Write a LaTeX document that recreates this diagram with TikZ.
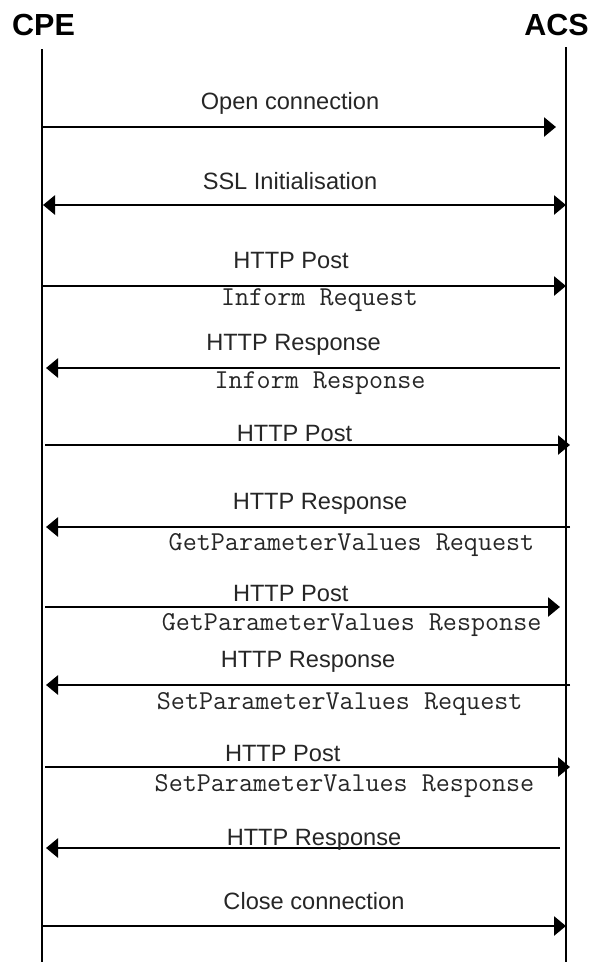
\documentclass[tikz,border=0pt]{standalone}
\usepackage{fontspec}
\setmainfont{Liberation Sans}
\usetikzlibrary{arrows.meta}
\begin{document}
\begin{tikzpicture}[x=1pt,y=-1pt,
  tip/.tip={Triangle[length=12pt,width=19pt]},
  msg/.style={line width=2.8pt,-tip},
  both/.style={line width=2.8pt,tip-tip},
  life/.style={line width=2.8pt},
  lbl/.style={anchor=base,inner sep=0pt,font=\fontsize{23.6}{26}\selectfont,text=black!85},
  mono/.style={anchor=base,inner sep=0pt,font=\fontsize{27.3}{30}\selectfont\ttfamily,text=black!85},
  head/.style={anchor=base,inner sep=0pt,font=\fontsize{30.5}{34}\selectfont\bfseries}]
\useasboundingbox (0,0) rectangle (592,962);

% headers
\node[head] (cpe) at (43.5,35) {CPE};
\node[head] (acs) at (556.5,35) {ACS};

% lifelines
\coordinate (cpeTop) at (42,49);
\coordinate (cpeBot) at (42,962);
\coordinate (acsTop) at (566,47);
\coordinate (acsBot) at (566,962);
\draw[life] (cpeTop) -- (cpeBot);
\draw[life] (acsTop) -- (acsBot);

% 1 Open connection
\coordinate (s1) at (42,127);  \coordinate (e1) at (556,127);
\draw[msg] (s1) -- (e1);
\node[lbl] (l1) at (290,109) {Open connection};

% 2 SSL
\coordinate (s2) at (43,205);  \coordinate (e2) at (566,205);
\draw[both] (s2) -- (e2);
\node[lbl] (l2) at (290,189) {SSL Initialisation};

% 3 HTTP Post / Inform Request
\coordinate (s3) at (42,286);  \coordinate (e3) at (566,286);
\draw[msg] (s3) -- (e3);
\node[lbl] (l3) at (291,268) {HTTP Post};
\node[mono] (m3) at (319.5,305) {Inform Request};

% 4 HTTP Response / Inform Response
\coordinate (s4) at (560,368);  \coordinate (e4) at (46,368);
\draw[msg] (s4) -- (e4);
\node[lbl] (l4) at (293.5,350) {HTTP Response};
\node[mono] (m4) at (320,388) {Inform Response};

% 5 HTTP Post
\coordinate (s5) at (45,445);  \coordinate (e5) at (570,445);
\draw[msg] (s5) -- (e5);
\node[lbl] (l5) at (294.5,441.7) {HTTP Post};

% 6 HTTP Response / GPV Request
\coordinate (s6) at (570,527);  \coordinate (e6) at (46,527);
\draw[msg] (s6) -- (e6);
\node[lbl] (l6) at (320,509) {HTTP Response};
\node[mono] (m6) at (351.5,550.7) {GetParameterValues Request};

% 7 HTTP Post / GPV Response
\coordinate (s7) at (45,607);  \coordinate (e7) at (560,607);
\draw[msg] (s7) -- (e7);
\node[lbl] (l7) at (290.7,601.7) {HTTP Post};
\node[mono] (m7) at (351.6,630.7) {GetParameterValues Response};

% 8 HTTP Response / SPV Request
\coordinate (s8) at (570,685);  \coordinate (e8) at (46,685);
\draw[msg] (s8) -- (e8);
\node[lbl] (l8) at (308,667) {HTTP Response};
\node[mono] (m8) at (339.7,709) {SetParameterValues Request};

% 9 HTTP Post / SPV Response
\coordinate (s9) at (45,767);  \coordinate (e9) at (570,767);
\draw[msg] (s9) -- (e9);
\node[lbl] (l9) at (282.7,761.7) {HTTP Post};
\node[mono] (m9) at (344.5,791.7) {SetParameterValues Response};

% 10 HTTP Response
\coordinate (s10) at (560,848);  \coordinate (e10) at (46,848);
\draw[msg] (s10) -- (e10);
\node[lbl] (l10) at (314,845) {HTTP Response};

% 11 Close connection
\coordinate (s11) at (42,926);  \coordinate (e11) at (566,926);
\draw[msg] (s11) -- (e11);
\node[lbl] (l11) at (314,909) {Close connection};
\end{tikzpicture}
\end{document}
